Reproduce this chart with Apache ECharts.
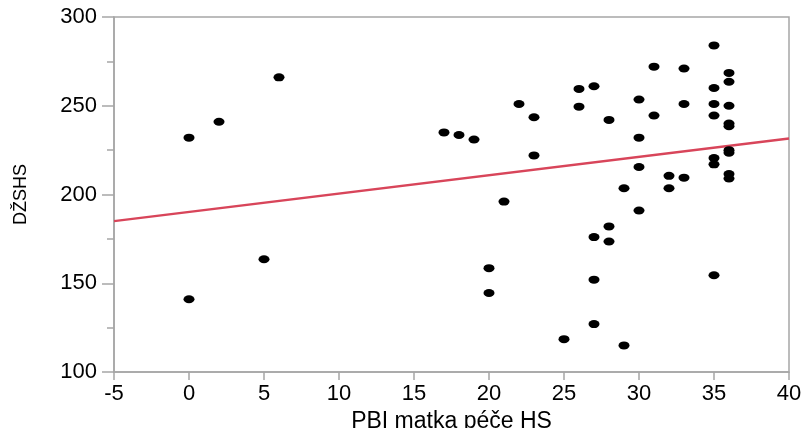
<!DOCTYPE html>
<html><head><meta charset="utf-8">
<script src="https://cdn.jsdelivr.net/npm/echarts@6/dist/echarts.min.js"></script>
<style>html,body{margin:0;padding:0;background:#fff}#c{width:806px;height:428px}</style>
</head><body><div id="c"></div>
<script>
const pbiX = [0,0,2,5,6,17,18,19,20,20,21,22,23,23,25,26,26,27,27,27,27,28,28,28,29,29,30,30,30,30,31,31,32,32,33,33,33,35,35,35,35,35,35,35,36,36,36,36,36,36,36,36,36];
const dzshsY = [232,141,241,163.5,266,235,233.5,231,158.5,144.5,196,251,243.5,222,118.5,259.5,249.5,261,176,152,127,242,182,173.5,203.5,115,253.5,232,215.5,191,272,244.5,210.5,203.5,271,251,209.5,284,260,251,244.5,220.5,217,154.5,268.5,263.5,250,240,238.5,225,223.5,211.5,209];
const fitX = [-5, 40];
const fitY = [185, 231.5];
const xTitle = 'PBI matka péče HS';
const yTitle = 'DŽSHS';

const chart = echarts.init(document.getElementById('c'), null, {renderer:'canvas'});
const axisCol = '#a6a6a6';
const ff = 'Liberation Sans, Arial, sans-serif';
chart.setOption({
  animation: false,
  grid: {left:114, right:17, top:17, bottom:56, containLabel:false, outerBoundsMode:'none',
         show:true, borderColor:axisCol, borderWidth:1.5, backgroundColor:'transparent'},
  xAxis: {
    type:'value', min:-5, max:40, interval:5,
    name: xTitle, nameLocation:'middle', nameGap:33,
    nameTextStyle:{fontFamily:ff, fontSize:23, color:'#000'},
    axisLine:{show:true, onZero:false, lineStyle:{color:axisCol, width:1.5}},
    axisTick:{show:true, inside:false, length:8, lineStyle:{color:axisCol, width:1.5}},
    axisLabel:{fontFamily:ff, fontSize:22, color:'#000', margin:11},
    splitLine:{show:false}
  },
  yAxis: {
    type:'value', min:100, max:300, interval:50,
    name: yTitle, nameLocation:'middle', nameGap:84,
    nameTextStyle:{fontFamily:ff, fontSize:18, color:'#000'},
    axisLine:{show:true, onZero:false, lineStyle:{color:axisCol, width:1.5}},
    axisTick:{show:true, inside:false, length:12, lineStyle:{color:axisCol, width:1.5}},
    minorTick:{show:true, splitNumber:2, length:7, lineStyle:{color:axisCol, width:1.5}},
    axisLabel:{fontFamily:ff, fontSize:22, color:'#000', margin:17},
    splitLine:{show:false}
  },
  series: [
    {type:'line', data: fitX.map((x,i)=>[x, fitY[i]]), symbol:'none',
     lineStyle:{color:'#d8455a', width:2.5}, z:2},
    {type:'scatter', data: pbiX.map((x,i)=>[x, dzshsY[i]]), symbol:'circle', symbolSize:[11,8],
     itemStyle:{color:'#000', opacity:1}, z:3}
  ]
});
</script></body></html>
